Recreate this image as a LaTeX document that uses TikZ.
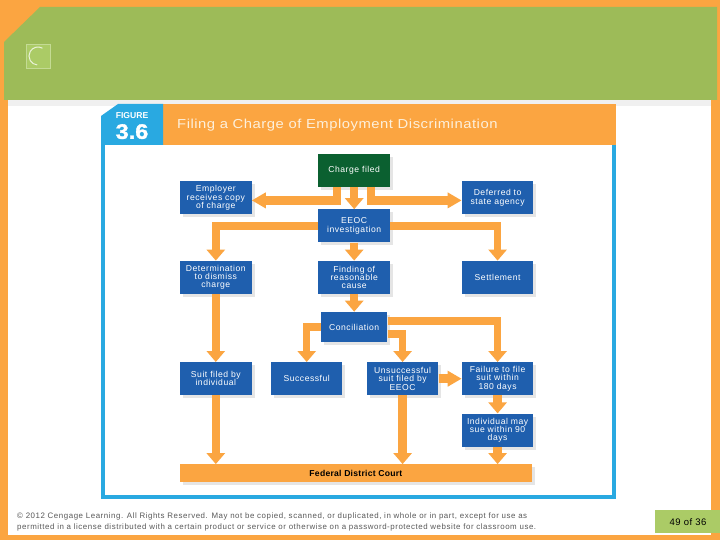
\documentclass[tikz,border=0pt]{standalone}
\usepackage{fontspec}
\setmainfont{Liberation Sans}
\usetikzlibrary{positioning, arrows.meta, calc, shadows}
\definecolor{slideorange}{HTML}{FBA541}
\definecolor{slidegreen}{HTML}{9DBB58}
\definecolor{pagegreen}{HTML}{ABCB66}
\definecolor{tagblue}{HTML}{29A9E1}
\definecolor{stageblue}{HTML}{1F5FAE}
\definecolor{startgreen}{HTML}{0B6030}
\definecolor{titlecream}{HTML}{FDF0DC}

\begin{document}
\begin{tikzpicture}[
    x=1pt, y=-1pt,
    stage/.style={fill=stageblue, text=white, minimum width=71.5pt, minimum height=33pt, inner sep=0pt,
        align=center, font=\fontsize{8.6}{8.3}\selectfont\addfontfeature{LetterSpace=6},
        drop shadow={shadow xshift=3pt, shadow yshift=-3pt, fill=black!10, opacity=1}},
    startstage/.style={stage, fill=startgreen},
    court/.style={stage, fill=slideorange, text=black, minimum width=351.7pt, minimum height=17.4pt,
        font=\fontsize{8.6}{9}\selectfont\bfseries\addfontfeature{LetterSpace=3}},
    arrow/.style={-{Triangle[length=11pt, width=18pt]}, slideorange, line width=8.5pt},
    sidearrow/.style={arrow, -{Triangle[length=14pt, width=15pt]}},
    elbowarrow/.style={arrow, line width=7.5pt}
]
\useasboundingbox (0,0) rectangle (720,540);

% Slide background
\fill[slideorange] (0,0) rectangle (720,540);
\fill[white] (8,100) rectangle (711,535);
\fill[black!6] (8,100) rectangle (711,106.5);
\fill[slidegreen] (4,42) -- (40,7) -- (717,7) -- (717,100) -- (4,100) -- cycle;
\fill[pagegreen, draw=white!30!pagegreen] (26,44) rectangle (50,68);
\draw[white!75!pagegreen, line width=1pt] (42.5,48.2) arc[start angle=-60, end angle=-265, radius=9];

% Figure frame and title
\draw[tagblue, line width=4pt] (103.3,116) -- (103.3,497) -- (614,497) -- (614,145);
\fill[slideorange] (163,104) rectangle (616,145);
\fill[tagblue] (101,116) -- (118,104) -- (163,104) -- (163,145) -- (101,145) -- cycle;
\node[text=white, font=\fontsize{8.6}{9}\selectfont\bfseries, inner sep=0pt] (figword) at (132,116) {FIGURE};
\node[text=white, font=\fontsize{21}{22}\selectfont\bfseries\addfontfeature{FakeStretch=1.12, FakeBold=1.5}, inner sep=0pt] (fignum) at (132,131.6) {3.6};
\node[text=titlecream, font=\fontsize{13}{15}\selectfont\addfontfeature{FakeStretch=1.14, LetterSpace=4}, inner sep=0pt, anchor=west] (title) at (177,125.5) {Filing a Charge of Employment Discrimination};

% Top node
\node[startstage] (charge) at (354.2,170.5) {Charge filed};

% Level 2
\node[stage, below left=-6pt and 66.5pt of charge] (employer) {Employer\\receives copy\\of charge};
\node[stage, below right=-6pt and 71.5pt of charge] (deferred) {Deferred to\\state agency};
\node[stage, below=22pt of charge] (eeoc) {EEOC\\investigation};

% Level 3
\node[stage, below left=18pt and 66.5pt of eeoc] (dismiss) {Determination\\to dismiss\\charge};
\node[stage, below=18pt of eeoc] (finding) {Finding of\\reasonable\\cause};
\node[stage, below right=18pt and 71.5pt of eeoc] (settlement) {Settlement};

% Conciliation
\node[stage, below=17.7pt of finding, minimum width=66.5pt, minimum height=30.5pt] (conciliation) {Conciliation};

% Level 4
\node[stage, below=68pt of dismiss] (suit) {Suit filed by\\individual};
\node[stage, right=19pt of suit] (successful) {Successful};
\node[stage, right=24pt of successful] (unsuccessful) {Unsuccessful\\suit filed by\\EEOC};
\node[stage, below=68pt of settlement] (failure) {Failure to file\\suit within\\180 days};
\node[stage, below=18pt of failure] (maysue) {Individual may\\sue within 90\\days};

% Court
\node[court, anchor=north west] (federal) at ([yshift=-17.3pt]maysue.south -| suit.west) {Federal District Court};

% Arrows from top node
\draw[sidearrow] ([xshift=-17pt]charge.south) |- ([yshift=-2.5pt]employer.east);
\draw[arrow] (charge) -- (eeoc);
\draw[sidearrow] ([xshift=17pt]charge.south) |- ([yshift=-2.5pt]deferred.west);

% Arrows from EEOC
\draw[elbowarrow] (eeoc.west) -| (dismiss);
\draw[elbowarrow] (eeoc.east) -| (settlement);
\draw[arrow] (eeoc) -- (finding);
\draw[arrow] (finding) -- (conciliation);

% Arrows from conciliation
\draw[elbowarrow] (conciliation.west) -| (successful);
\draw[elbowarrow] ([yshift=-7pt]conciliation.east) -| (unsuccessful);
\draw[elbowarrow] ([yshift=6pt]conciliation.east) -| (failure);

% Arrows to court
\draw[arrow] (dismiss) -- (suit);
\draw[arrow] (suit) -- (suit |- federal.north);
\draw[arrow] (unsuccessful) -- (unsuccessful |- federal.north);
\draw[sidearrow] (unsuccessful) -- (failure);
\draw[arrow] (failure) -- (maysue);
\draw[arrow] (maysue) -- (maysue |- federal.north);

% Footer
\node[anchor=north west, inner sep=0pt, align=left, text=black!65, font=\fontsize{7.9}{11.5}\selectfont\addfontfeature{LetterSpace=7}] (notice) at (17,512.3)
    {© 2012 Cengage Learning. All Rights Reserved. May not be copied, scanned, or duplicated, in whole or in part, except for use as\\
    permitted in a license distributed with a certain product or service or otherwise on a password-protected website for classroom use.};
\fill[pagegreen] (655,510) rectangle (720,533);
\node[inner sep=0pt, font=\fontsize{9.5}{10}\selectfont\addfontfeature{LetterSpace=5}] (pageno) at (688,522) {49 of 36};
\end{tikzpicture}
\end{document}
